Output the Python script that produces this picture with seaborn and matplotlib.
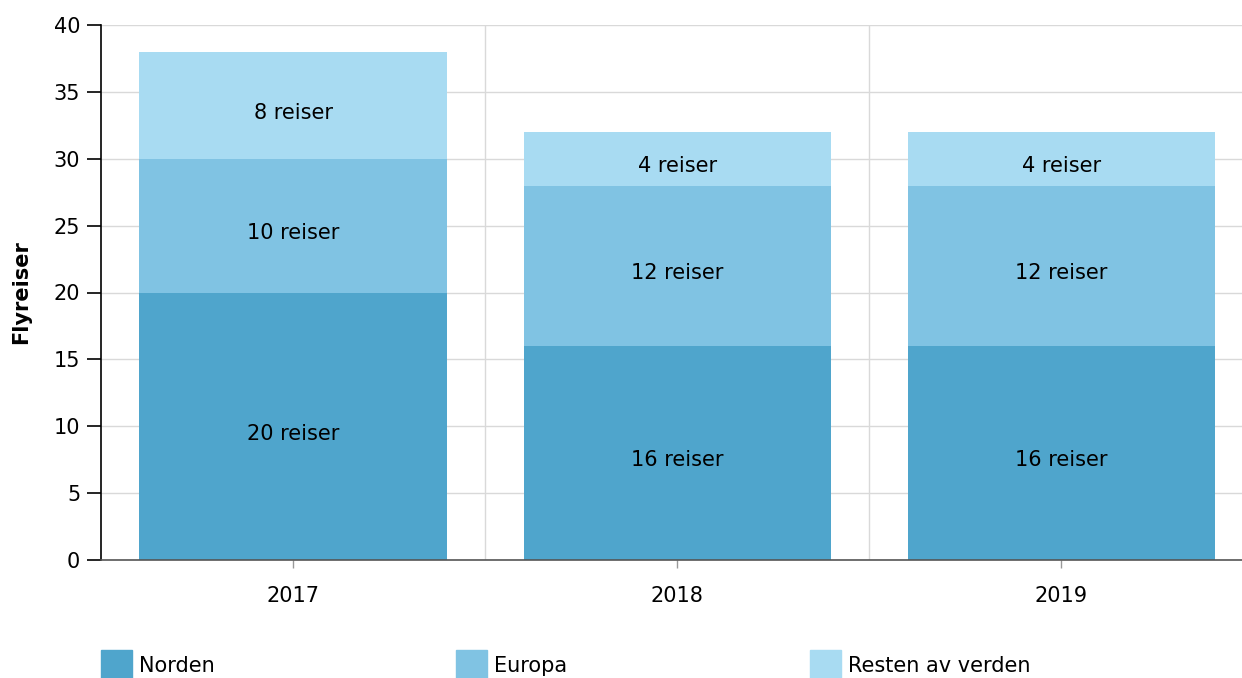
import matplotlib
matplotlib.use("Agg")
import matplotlib.pyplot as plt
import seaborn as sns
import pandas as pd
import numpy as np
from matplotlib.patches import Patch

years = ["2017", "2018", "2019"]
norden = [20, 16, 16]
europa = [10, 12, 12]
resten = [8, 4, 4]
series_names = ["Norden", "Europa", "Resten av verden"]
colors = ["#4fa5cc", "#80c3e3", "#a8dbf2"]

sns.set_theme(style="white")
plt.rcParams["font.family"] = ["DejaVu Sans"]
plt.rcParams["text.color"] = "#000000"

FS = 15

fig = plt.figure(figsize=(12.42, 6.78), dpi=100)
ax = fig.add_axes([101/1242, 118/678, 1 - 101/1242, 535/678])

n = np.array(norden)
e = np.array(europa)
r = np.array(resten)
layers = [n + e + r, n + e, n]
layer_colors = [colors[2], colors[1], colors[0]]
for vals, c in zip(layers, layer_colors):
    df = pd.DataFrame({"year": years, "v": vals})
    sns.barplot(data=df, x="year", y="v", color=c, width=0.8, ax=ax,
                saturation=1, zorder=2, linewidth=0)

for i in range(len(years)):
    bottoms = [0, n[i], n[i] + e[i]]
    heights = [n[i], e[i], r[i]]
    for b, h in zip(bottoms, heights):
        ax.text(i, b + h / 2 - 0.55, f"{h} reiser", ha="center", va="center",
                fontsize=FS, color="#000000", zorder=3)

ax.set_ylim(0, 40)
ax.set_xlim(-0.5, 2.47)
ax.set_yticks(range(0, 41, 5))
ax.set_xlabel("")
ax.set_ylabel("Flyreiser", fontsize=FS, fontweight="bold", labelpad=16,
              color="#000000")
ax.yaxis.grid(True, color="#d9d9d9", linewidth=1, zorder=0)
for xb in [0.5, 1.5]:
    ax.axvline(xb, color="#d9d9d9", linewidth=1, zorder=0)
ax.set_axisbelow(True)
for s in ["top", "right"]:
    ax.spines[s].set_visible(False)
ax.spines["left"].set_color("#000000")
ax.spines["left"].set_linewidth(1.2)
ax.spines["bottom"].set_color("#555555")
ax.spines["bottom"].set_linewidth(1.2)
ax.tick_params(axis="y", which="both", left=True, length=10, width=1.2,
               color="#000000", labelsize=FS, pad=5, direction="out",
               labelcolor="#000000")
ax.tick_params(axis="x", bottom=True, length=6, width=1, color="#999999",
               labelsize=FS, pad=13, direction="out", labelcolor="#000000")

xs = [101/1242, 456/1242, 810/1242]
for name, c, x in zip(series_names, colors, xs):
    fig.legend(handles=[Patch(facecolor=c, edgecolor=c, linewidth=1)],
               labels=[name], loc="lower left", bbox_to_anchor=(x - 0.0148, -0.03),
               frameon=False, fontsize=FS, handlelength=1.45, handleheight=1.8,
               handletextpad=0.35, labelcolor="#000000")

fig.savefig("out.png", dpi=100)
